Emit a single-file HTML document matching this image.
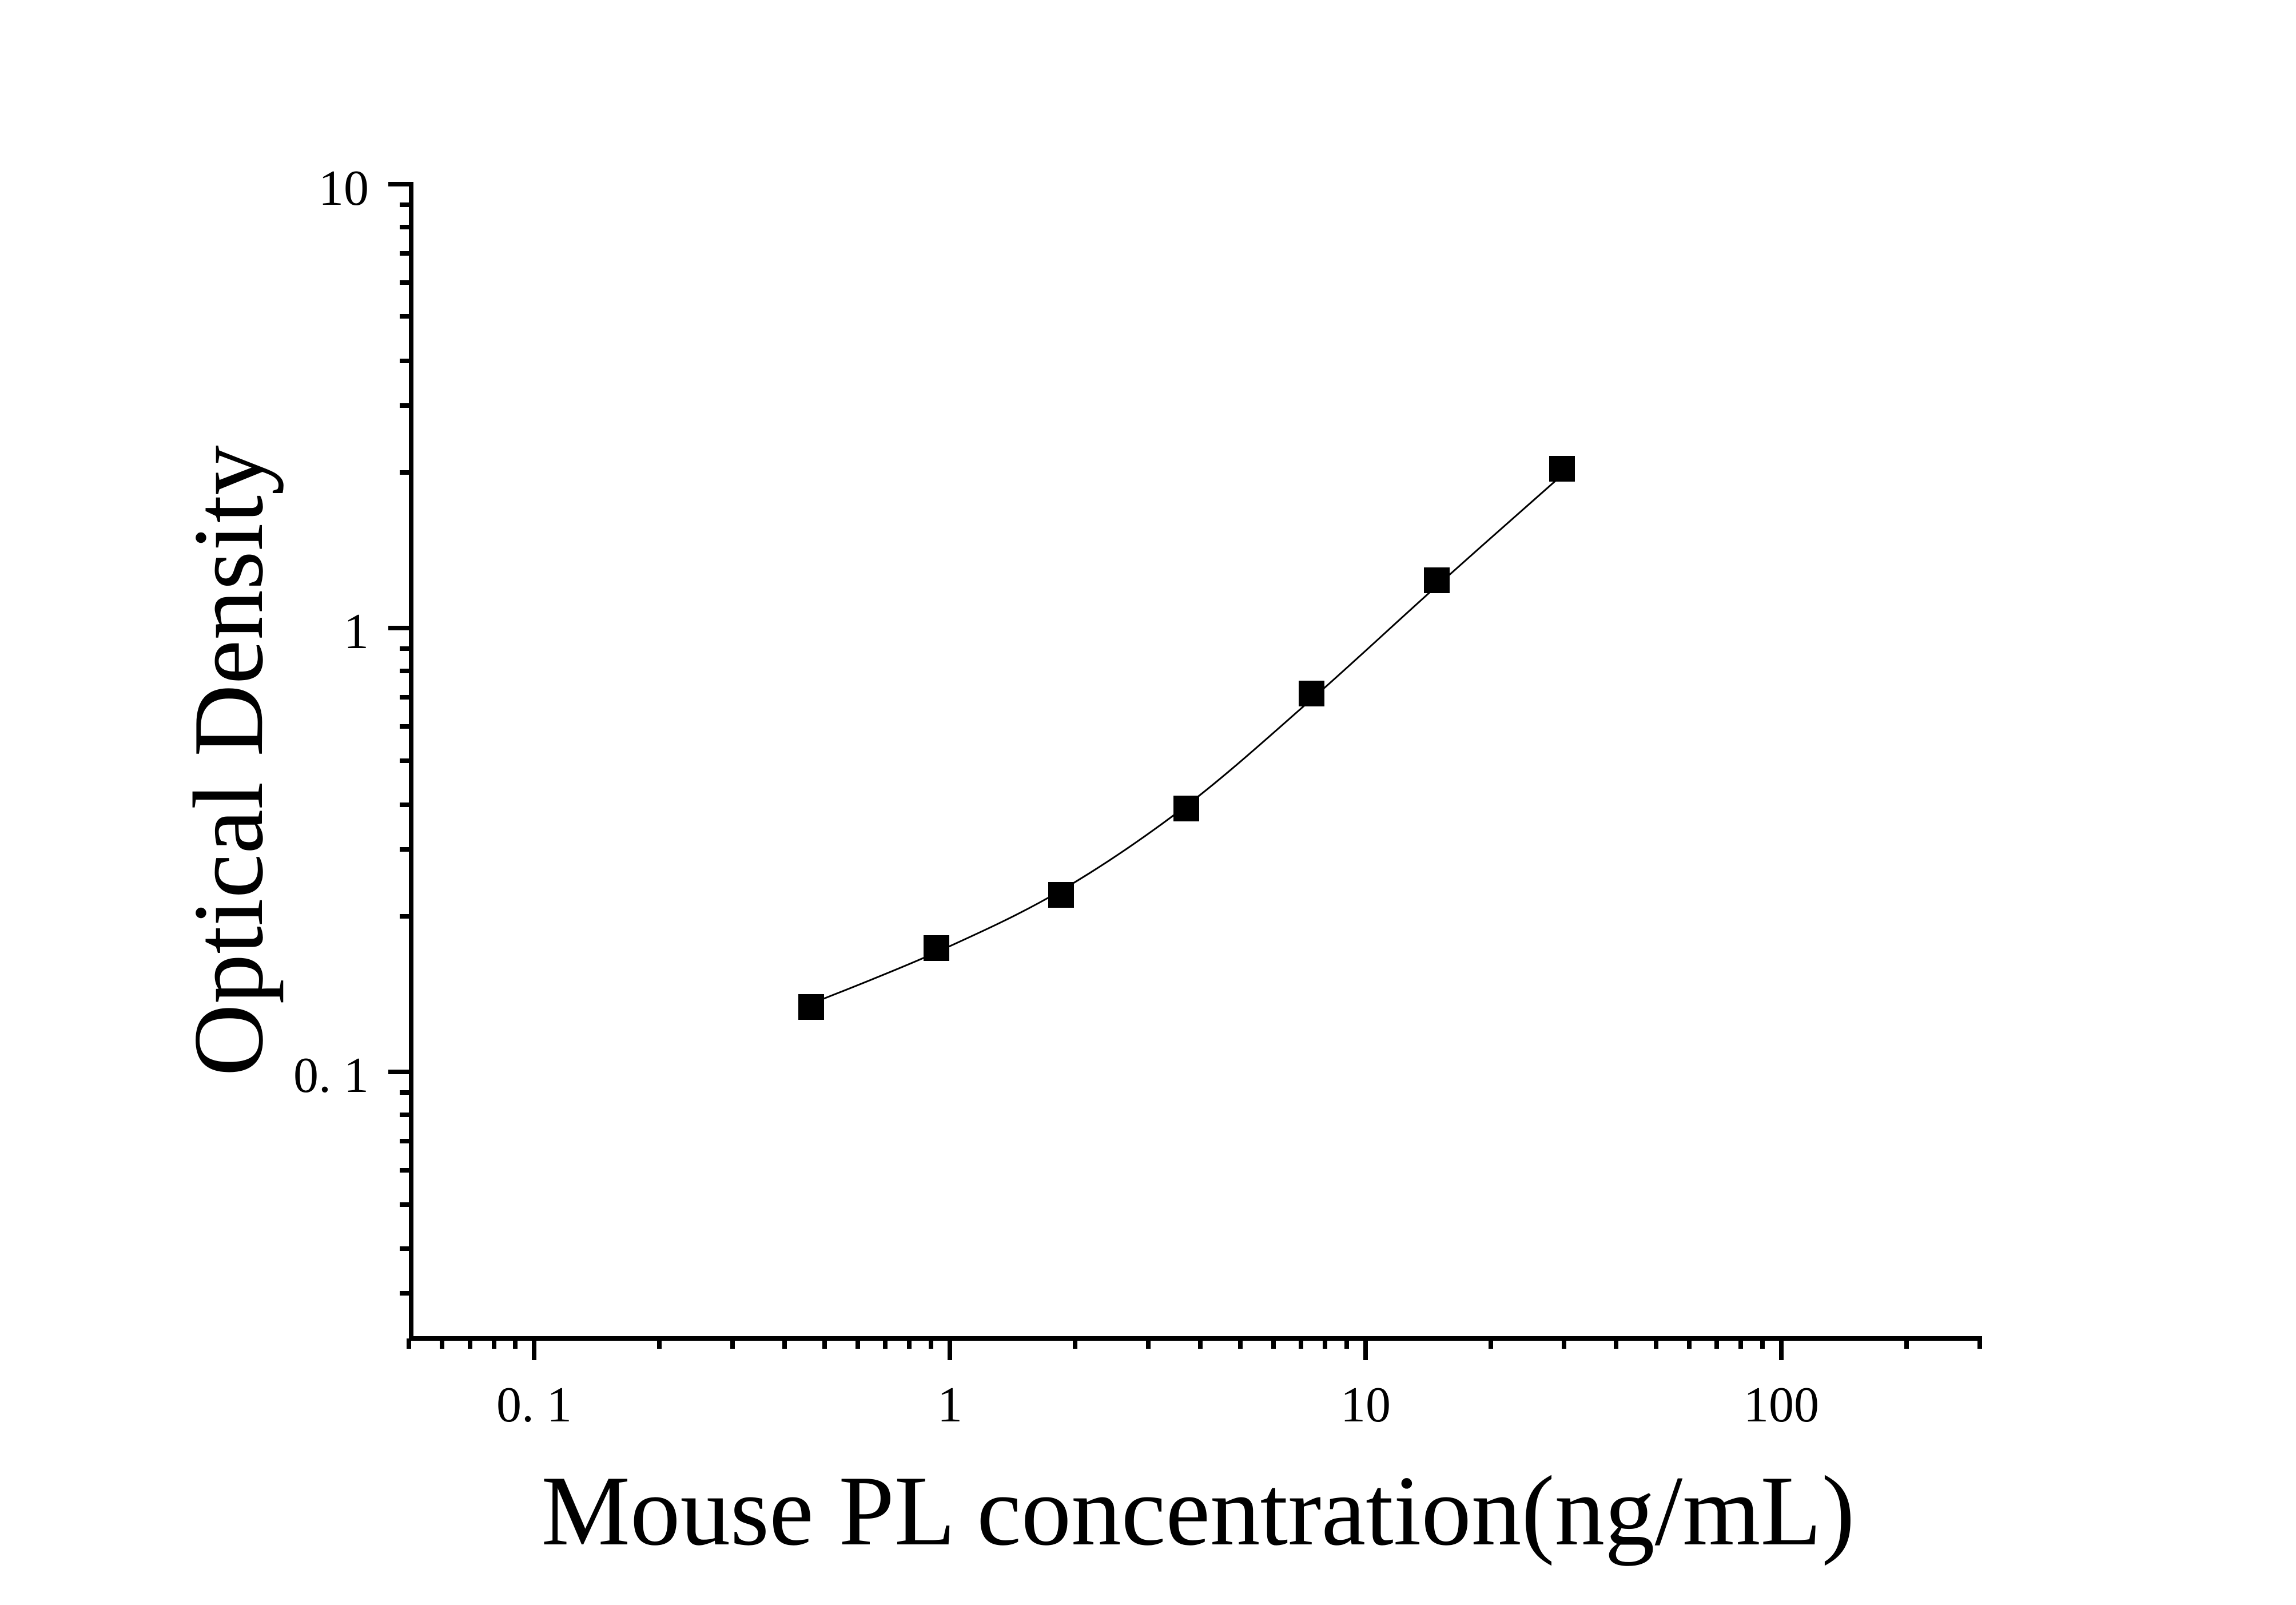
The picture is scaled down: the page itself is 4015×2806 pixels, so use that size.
<!DOCTYPE html>
<html><head><meta charset="utf-8"><style>
html,body{margin:0;padding:0;background:#fff;}
svg{display:block;}
text{font-family:"Liberation Serif","Times New Roman",serif;fill:#000;}
</style></head><body>
<svg width="4015" height="2806" viewBox="0 0 4015 2806" xmlns="http://www.w3.org/2000/svg">
<rect width="4015" height="2806" fill="#fff"/>
<g stroke="#000" stroke-width="8" fill="none">
<line x1="719" y1="318" x2="719" y2="2344"/>
<line x1="715" y1="2340" x2="3466" y2="2340"/>
<line x1="679" y1="322" x2="719" y2="322"/>
<line x1="679" y1="1098" x2="719" y2="1098"/>
<line x1="679" y1="1874" x2="719" y2="1874"/>
<path d="M699 358H719M699 397H719M699 443H719M699 494H719M699 553H719M699 631H719M699 709H719M699 826H719
M699 1134H719M699 1173H719M699 1219H719M699 1270H719M699 1330H719M699 1407H719M699 1485H719M699 1602H719
M699 1910H719M699 1949H719M699 1995H719M699 2046H719M699 2106H719M699 2183H719M699 2261H719"/>
<path d="M934 2340V2378M1661 2340V2378M2388 2340V2378M3115 2340V2378"/>
<path d="M715 2340V2358M773 2340V2358M822 2340V2358M864 2340V2358M901 2340V2358
M1153 2340V2358M1281 2340V2358M1372 2340V2358M1442 2340V2358M1500 2340V2358M1548 2340V2358M1590 2340V2358M1628 2340V2358
M1880 2340V2358M2008 2340V2358M2099 2340V2358M2169 2340V2358M2227 2340V2358M2275 2340V2358M2317 2340V2358M2355 2340V2358
M2607 2340V2358M2735 2340V2358M2826 2340V2358M2896 2340V2358M2954 2340V2358M3002 2340V2358M3044 2340V2358M3082 2340V2358
M3334 2340V2358M3462 2340V2358"/>
</g>
<g transform="translate(-4,-6)">
<path d="M1422 1761C1458.5 1746 1568.2 1704 1641 1671C1713.8 1638 1786.2 1605.7 1859 1563C1932 1520.3 2005 1470.7 2078 1415C2151 1359.3 2224 1293 2297 1229C2370 1165 2443 1096.3 2516 1031C2589 965.7 2698.5 869.3 2735 837" stroke="#000" stroke-width="3" fill="none"/>
<g fill="#000">
<rect x="1400" y="1744" width="45" height="45"/>
<rect x="1619" y="1641" width="45" height="45"/>
<rect x="1837" y="1548" width="45" height="45"/>
<rect x="2056" y="1397" width="45" height="45"/>
<rect x="2275" y="1196" width="45" height="45"/>
<rect x="2494" y="998" width="45" height="45"/>
<rect x="2713" y="803" width="45" height="45"/>
</g>
</g>
<g font-size="88" text-anchor="end">
<text x="645" y="358">10</text>
<text x="645" y="1133">1</text>
<text x="645" y="1909">0. 1</text>
</g>
<g font-size="88" text-anchor="middle">
<text x="934" y="2485">0. 1</text>
<text x="1661" y="2485">1</text>
<text x="2388" y="2485">10</text>
<text x="3115" y="2485">100</text>
</g>
<text x="2095" y="2700" font-size="175" text-anchor="middle">Mouse PL concentration(ng/mL)</text>
<text transform="translate(458,1330) rotate(-90)" font-size="175" text-anchor="middle">Optical Density</text>
</svg>
</body></html>
